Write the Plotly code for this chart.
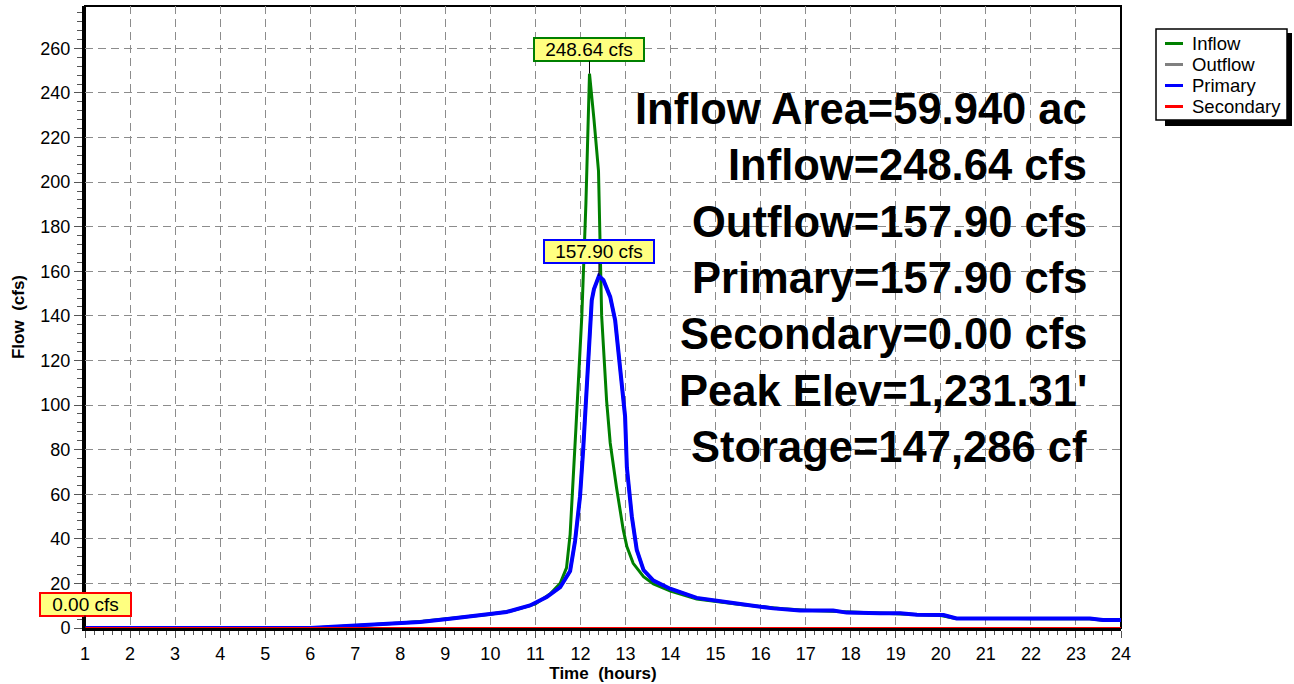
import plotly.graph_objects as go

# ---------------- data ----------------
inflow_t = [1.0, 6.0, 6.5, 7.0, 7.5, 8.0, 8.5, 9.0, 9.5, 10.0, 10.5, 11.0, 11.33, 11.55, 11.69,
            11.77, 11.9, 12.03, 12.12, 12.2, 12.3, 12.4, 12.47, 12.58, 12.66, 12.8, 12.95,
            13.03, 13.17, 13.4, 13.62, 14.0, 14.58, 15.1, 15.5, 16.0, 16.5, 17.0, 17.5,
            18.0, 18.5, 19.0, 19.5, 20.0, 20.3, 21.0, 22.0, 23.0, 23.3, 23.6, 24.0]
inflow_q = [0.0, 0.0, 0.5, 1.0, 1.5, 2.2, 3.0, 4.0, 5.0, 6.2, 7.8, 10.8, 15.4, 20.0, 27.0,
            42.0, 90.0, 140.0, 190.0, 248.64, 228.0, 205.0, 140.0, 102.0, 83.0, 63.0, 44.0,
            36.5, 29.0, 23.0, 19.8, 16.6, 13.0, 11.6, 10.6, 9.6, 8.6, 8.0, 7.6,
            7.1, 6.6, 6.3, 5.9, 5.6, 4.4, 4.2, 4.2, 4.2, 4.2, 3.5, 3.5]

primary_t = [1.0, 6.0, 6.5, 7.25, 8.0, 8.44, 9.1, 9.7, 10.36, 10.88, 11.1, 11.25, 11.55, 11.77,
             11.88, 11.99, 12.06, 12.14, 12.21, 12.25, 12.3, 12.41, 12.51, 12.66, 12.77,
             12.88, 12.99, 13.03, 13.14, 13.25, 13.4, 13.62, 13.99, 14.58, 15.1, 15.39,
             16.28, 16.87, 17.61, 17.91, 18.65, 19.1, 19.47, 20.06, 20.35, 23.31, 23.6, 24.0]
primary_q = [0.0, 0.0, 0.6, 1.3, 2.2, 2.7, 4.1, 5.7, 7.2, 10.1, 12.4, 13.9, 18.3, 25.5,
             39.0, 59.0, 80.0, 110.0, 135.0, 147.0, 152.0, 157.90, 156.0, 148.5, 138.0,
             117.0, 95.0, 72.0, 50.0, 35.0, 26.0, 21.3, 17.6, 13.5, 11.9, 11.2,
             8.8, 7.8, 7.8, 6.9, 6.6, 6.6, 5.9, 5.8, 4.3, 4.3, 3.6, 3.6]

outflow_t = primary_t
outflow_q = primary_q

secondary_t = [1.0, 24.0]
secondary_q = [0.0, 0.0]

x_ticks = list(range(1, 25))
y_ticks = list(range(0, 261, 20))

series_names = ["Inflow", "Outflow", "Primary", "Secondary"]
series_colors = ["#008000", "#808080", "#0000FF", "#FF0000"]

stats_lines = ["Inflow Area=59.940 ac", "Inflow=248.64 cfs", "Outflow=157.90 cfs",
               "Primary=157.90 cfs", "Secondary=0.00 cfs", "Peak Elev=1,231.31'",
               "Storage=147,286 cf"]

FONT = "Liberation Sans, Arial, sans-serif"

fig = go.Figure()
series = [(inflow_t, inflow_q, 3), (outflow_t, outflow_q, 3),
          (primary_t, primary_q, 4), (secondary_t, secondary_q, 2)]
for (t, q, w), name, col in zip(series, series_names, series_colors):
    fig.add_trace(go.Scatter(x=t, y=q, mode="lines", name=name,
                             line=dict(color=col, width=w)))

grid = dict(showgrid=True, gridcolor="#8c8c8c", gridwidth=1, griddash="8px,5px")

fig.update_xaxes(range=[1, 24], tickmode="array", tickvals=x_ticks,
                 ticktext=[str(v) for v in x_ticks],
                 showline=True, linecolor="black", linewidth=3,
                 ticks="outside", ticklen=7, tickwidth=1, tickcolor="#555555",
                 minor=dict(dtick=0.2, tick0=1, ticks="outside", ticklen=4, tickwidth=1,
                            tickcolor="#555555", showgrid=False),
                 zeroline=False, tickfont=dict(size=18, color="black", family=FONT),
                 title=dict(text="<b>Time  (hours)</b>", font=dict(size=17, color="black", family=FONT),
                            standoff=3),
                 **grid)
fig.update_yaxes(range=[0, 279], tickmode="array", tickvals=y_ticks,
                 ticktext=[str(v) for v in y_ticks],
                 showline=True, linecolor="black", linewidth=3,
                 ticks="outside", ticklen=8, tickwidth=1, tickcolor="#555555",
                 minor=dict(dtick=4, tick0=0, ticks="outside", ticklen=5, tickwidth=1,
                            tickcolor="#555555", showgrid=False),
                 zeroline=False, tickfont=dict(size=18, color="black", family=FONT),
                 title=dict(text="<b>Flow  (cfs)</b>", font=dict(size=17, color="black", family=FONT),
                            standoff=12),
                 **grid)

# frame (top/right thinner lines)
fig.add_shape(type="rect", xref="paper", yref="paper", x0=0, x1=1, y0=0, y1=1,
              line=dict(color="black", width=2), layer="below")

W, H = 1294, 684
L, R, T, B = 85, 173, 6, 56
pw, ph = W - L - R, H - T - B
def px2paper_x(px):
    return (px - L) / pw
def px2paper_y(py):
    return (H - B - py) / ph

# legend (drawn box with shadow, entries from the series names/colours)
fig.add_shape(type="rect", xref="paper", yref="paper",
              x0=px2paper_x(1165), x1=px2paper_x(1292), y0=px2paper_y(126), y1=px2paper_y(33),
              line=dict(width=0), fillcolor="black", layer="above")
fig.add_shape(type="rect", xref="paper", yref="paper",
              x0=px2paper_x(1156), x1=px2paper_x(1287), y0=px2paper_y(120), y1=px2paper_y(29),
              line=dict(color="black", width=1.5), fillcolor="white", layer="above")
for i, (name, col) in enumerate(zip(series_names, series_colors)):
    yc = 43.5 + 21 * i
    fig.add_shape(type="line", xref="paper", yref="paper",
                  x0=px2paper_x(1165), x1=px2paper_x(1183),
                  y0=px2paper_y(yc), y1=px2paper_y(yc),
                  line=dict(color=col, width=3), layer="above")
    fig.add_annotation(x=px2paper_x(1190), y=px2paper_y(yc), xref="paper", yref="paper",
                       xanchor="left", yanchor="middle", text=name, showarrow=False,
                       font=dict(size=18.5, color="black", family=FONT))

# peak labels
i_in = inflow_q.index(max(inflow_q))
i_pr = primary_q.index(max(primary_q))
labels = [
    (inflow_t[i_in], inflow_q[i_in], f"{inflow_q[i_in]:.2f} cfs", "#008000", 106),
    (primary_t[i_pr], primary_q[i_pr], f"{primary_q[i_pr]:.2f} cfs", "#0000FF", 106),
    (secondary_t[0], max(secondary_q), f"{max(secondary_q):.2f} cfs", "#FF0000", 87),
]
for x, y, txt, col, w in labels:
    fig.add_annotation(x=x, y=y, xref="x", yref="y", text=txt, showarrow=True,
                       arrowhead=0, arrowwidth=1, arrowcolor="black", ax=0, ay=-24,
                       bgcolor="#FFFF80", bordercolor=col, borderwidth=2, borderpad=1,
                       width=w, height=19, font=dict(size=19, color="black", family=FONT))

# stats block
for i, line in enumerate(stats_lines):
    fig.add_annotation(x=px2paper_x(1089), y=px2paper_y(109 + 56.3 * i), xref="paper", yref="paper",
                       xanchor="right", yanchor="middle", text=f"<b>{line}</b>", showarrow=False,
                       font=dict(size=43.5, color="black", family=FONT))

fig.update_layout(
    width=W, height=H,
    margin=dict(l=L, r=R, t=T, b=B, autoexpand=False),
    paper_bgcolor="white", plot_bgcolor="white",
    font=dict(family=FONT, color="black"),
    showlegend=False,
)

fig.write_html("out.html", config={"displayModeBar": False},
               post_script="document.body.style.margin='0';")
